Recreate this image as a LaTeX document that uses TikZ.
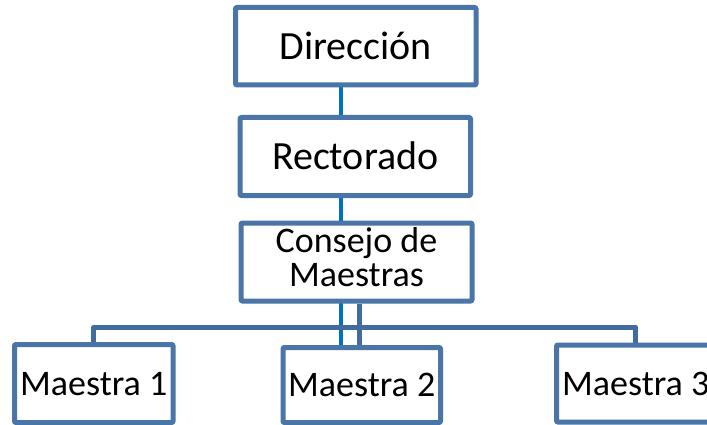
\documentclass[tikz,border=0pt]{standalone}
\usepackage{fontspec}
\setmainfont{Carlito}
\usetikzlibrary{backgrounds}
\definecolor{boxc}{RGB}{74,117,168}
\definecolor{barc}{RGB}{66,108,158}
\definecolor{blueln}{RGB}{0,112,192}
\tikzset{
  orgbox/.style={draw=boxc, line width=5pt, fill=white, inner sep=0pt, line join=round, rounded corners=1pt},
  bigtxt/.style={font=\fontsize{40}{40}\selectfont, text height=26pt, text depth=0pt},
  smalltxt/.style={font=\fontsize{36}{36}\selectfont, text height=23pt, text depth=0pt},
  conn/.style={draw=barc, line width=5pt, line join=round},
  blueconn/.style={draw=blueln, line width=3.5pt}
}
\begin{document}
\begin{tikzpicture}[x=1pt,y=-1pt]
\useasboundingbox (0,0) rectangle (707,425);
\begin{scope}
\clip (0,0) rectangle (707,425);
\node[orgbox, bigtxt, minimum width=240.5pt, minimum height=77.5pt] (direccion) at (355.75,46.25) {Dirección};
\node[orgbox, bigtxt, minimum width=230.5pt, minimum height=78pt] (rectorado) at (355.25,156.5) {Rectorado};
\node[orgbox, align=center, font=\fontsize{36}{34}\selectfont, text depth=10pt, minimum width=231pt, minimum height=78pt] (consejo) at (356.5,262) {Consejo de\\Maestras};
\node[orgbox, smalltxt, minimum width=158.5pt, minimum height=78pt] (m1) at (93.75,383.5) {Maestra 1};
\node[orgbox, smalltxt, minimum width=157.5pt, minimum height=75pt] (m2) at (361.75,385) {Maestra 2};
\node[orgbox, smalltxt, minimum width=158.5pt, minimum height=77pt] (m3) at (635.75,383.5) {Maestra 3};
\coordinate (hub) at (359,327.5);
\begin{scope}[on background layer]
\fill[white] (0,0) rectangle (707,425);
\draw[blueconn] ([xshift=-14.75pt]direccion.south) -- ([xshift=-14.75pt]direccion.south |- m2.north);
\draw[conn] (consejo.south -| hub) -- (hub |- m2.north);
\draw[conn] (m1.north) |- (hub) -| (m3.north);
\end{scope}
\end{scope}
\end{tikzpicture}
\end{document}
